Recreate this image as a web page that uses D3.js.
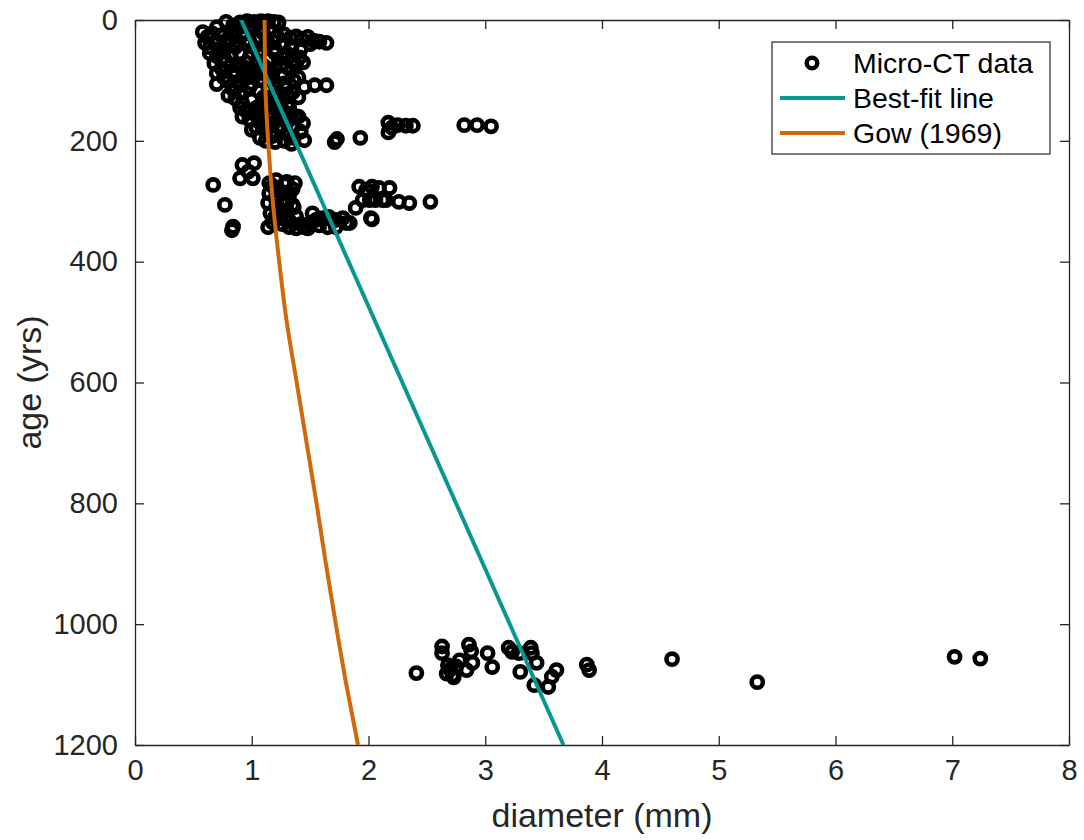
<!DOCTYPE html>
<html>
<head>
<meta charset="utf-8">
<script src="https://cdn.jsdelivr.net/npm/d3@7"></script>
<style>
  html, body { margin: 0; padding: 0; background: #fff; overflow: hidden; }
  svg { display: block; font-family: "Liberation Sans", Arial, Helvetica, sans-serif; }
</style>
</head>
<body>
<script>
//Micro-CT data: diameter (mm) and age (yrs)
const ctDiameter = [
  // top row, age ~0
  0.78, 0.84, 0.9, 0.96, 1.02, 1.08, 1.14, 1.19, 1.23,
  // ages 10-50
  0.58, 0.62, 0.66, 0.7, 0.74, 0.78, 0.6, 0.64,
  0.85, 0.92, 1.0, 1.05, 1.1, 0.95, 1.02, 1.12, 0.88,
  0.7, 0.9, 1.0, 1.15, 0.8, 0.98, 1.18, 1.2, 0.72, 0.86, 1.08,
  1.22, 1.28, 1.33, 1.38, 1.43, 1.48, 1.53, 1.58, 1.64, 1.26, 1.34, 1.42, 1.5, 1.3, 1.41,
  // ages 50-100
  0.64, 0.7, 0.76, 0.82, 0.9, 0.98, 1.06, 1.14, 1.2, 1.26, 1.35, 1.44,
  0.68, 0.74, 0.82, 0.9, 1.0, 1.1, 1.2, 1.3, 1.38,
  0.95, 1.05, 1.15, 1.25, 0.85, 0.95, 1.08, 1.34, 1.4, 0.78,
  // ages 85-150
  0.7, 0.76, 0.7, 0.8, 0.86, 0.94, 1.02, 1.1, 1.18, 1.26, 1.3, 1.36, 1.45, 1.54, 1.64,
  0.84, 0.9, 0.98, 1.06, 1.14, 1.22, 0.8,
  0.9, 1.0, 1.2, 1.28, 1.1, 1.2, 1.35, 1.04, 1.14, 1.22, 1.32, 0.9,
  // ages 125-170
  0.86, 0.92, 1.0, 1.08, 1.16, 1.24, 1.31, 1.4, 0.95, 1.02, 1.1, 1.18, 1.26, 1.34,
  0.98, 1.06, 1.14, 1.22, 1.3, 1.44, 1.38,
  1.06, 1.14, 1.25, 1.35, 1.1, 1.18, 1.4, 0.92, 1.04,
  // ages 170-210
  1.0, 1.07, 1.12, 1.18, 1.24, 1.3, 1.36, 1.42, 1.45, 1.2, 1.28, 1.34, 1.12, 1.71, 1.73, 1.93,
  // ages 170-190, right
  2.17, 2.2, 2.25, 2.32, 2.38, 2.17, 2.82, 2.93, 3.05,
  // ages 235-350
  0.92, 1.02, 0.97, 0.9, 1.01, 0.67, 0.77, 0.84, 0.83, 1.14,
  1.15, 1.21, 1.3, 1.37, 1.15, 1.14, 1.21, 1.3, 1.35, 1.2, 1.3, 1.32, 1.38, 1.45,
  1.18, 1.25, 1.32, 1.2, 1.28, 1.36, 1.24, 1.18, 1.26,
  1.2, 1.28, 1.35, 1.22, 1.3, 1.38, 1.16, 1.42, 1.48, 1.32, 1.25,
  1.5, 1.52, 1.55, 1.58, 1.61, 1.65, 1.66, 1.72, 1.78, 1.84, 1.89, 2.02, 1.69, 1.72, 1.81,
  1.92, 1.98, 2.03, 2.09, 2.18, 2.03,
  1.95, 2.01, 2.06, 2.12, 2.15, 2.26, 2.35, 2.53,
  // ages 1030-1105
  2.41, 2.63, 2.63, 2.67, 2.7, 2.72, 2.75, 2.78, 2.68, 2.73,
  2.86, 2.88, 2.89, 2.84, 3.02, 3.06, 3.2, 3.23, 3.29, 3.39, 3.4, 3.44, 3.3,
  3.42, 3.54, 3.57, 3.61, 3.87, 3.89,
  4.6, 5.33, 7.02, 7.24,
];
const ctAge = [
  3, 9, 4, 2, 3, 2, 2, 3, 4,
  20, 28, 22, 35, 25, 40, 38, 45,
  20, 25, 18, 30, 22, 40, 45, 40, 35,
  12, 12, 10, 15, 30, 35, 35, 48, 48, 45, 50,
  28, 24, 30, 27, 32, 28, 34, 36, 38, 42, 45, 48, 40, 55, 62,
  55, 60, 52, 58, 55, 62, 58, 65, 55, 62, 68, 70,
  72, 80, 75, 78, 82, 75, 80, 78, 75,
  70, 70, 85, 75, 85, 85, 88, 85, 95, 68,
  88, 95, 106, 102, 92, 98, 90, 100, 95, 92, 113, 100, 111, 108, 108,
  115, 120, 112, 118, 110, 120, 125,
  108, 105, 108, 105, 128, 125, 120, 145, 145, 140, 145, 145,
  130, 138, 132, 140, 135, 130, 138, 128, 150, 155, 150, 158, 148, 155,
  165, 168, 172, 165, 170, 171, 162,
  158, 162, 175, 178, 178, 172, 160, 160, 178,
  182, 195, 185, 192, 180, 188, 195, 185, 199, 202, 200, 205, 200, 202, 197, 195,
  170, 178, 174, 175, 175, 186, 174, 174, 176,
  240, 237, 251, 262, 262, 273, 306, 342, 348, 343,
  270, 265, 268, 270, 287, 303, 309, 303, 306, 326, 326, 343, 345, 343,
  275, 285, 290, 295, 300, 310, 318, 335, 338,
  280, 272, 280, 308, 315, 325, 320, 338, 345, 332, 328,
  336, 320, 331, 340, 328, 343, 326, 331, 328, 336, 311, 328, 331, 343, 336,
  276, 281, 276, 278, 278, 330,
  298, 298, 298, 298, 298, 301, 303, 301,
  1081, 1037, 1048, 1082, 1075, 1085, 1070, 1060, 1068, 1088,
  1034, 1045, 1064, 1076, 1048, 1071, 1039, 1046, 1048, 1039, 1048, 1064, 1079,
  1101, 1104, 1087, 1076, 1067, 1076,
  1058, 1096, 1054, 1057,
];

//Best-fit line: end points
const fitDiameter = [0.91, 3.67];
const fitAge = [0, 1200];

//Gow (1969) curve, points read along it
const gowAge = [0, 100, 200, 300, 400, 500, 600, 700, 800, 900, 1000, 1100, 1200];
const gowDiameter = [1.11, 1.115, 1.14, 1.18, 1.235, 1.3, 1.385, 1.47, 1.555, 1.635, 1.72, 1.81, 1.91];

//axis ticks
const xTicks = [0, 1, 2, 3, 4, 5, 6, 7, 8];
const yTicks = [0, 200, 400, 600, 800, 1000, 1200];

//legend entries
const legendItems = ["Micro-CT data", "Best-fit line", "Gow (1969)"];

//colors
const axisColor = "#262626";
const fitColor = "#0a9793";
const gowColor = "#d1680a";

//size
const width = 1084;
const height = 840;
const margin = { top: 20, right: 15, bottom: 95, left: 135 };
const innerWidth = width - margin.left - margin.right;
const innerHeight = height - margin.top - margin.bottom;

const svg = d3
  .select("body")
  .append("svg")
  .attr("width", width)
  .attr("height", height);

//scales
const xScale = d3.scaleLinear().domain([0, 8]).range([0, innerWidth]);
const yScale = d3.scaleLinear().domain([0, 1200]).range([0, innerHeight]);

svg
  .append("defs")
  .append("clipPath")
  .attr("id", "plot-clip")
  .append("rect")
  .attr("width", innerWidth)
  .attr("height", innerHeight);

const g = svg
  .append("g")
  .attr("transform", `translate(${margin.left},${margin.top})`);

//axes, ticks inside, box on
const tickSize = 9;
const fmt = d3.format("d");

g.append("g")
  .attr("transform", `translate(0,${innerHeight})`)
  .call(d3.axisBottom(xScale).tickValues(xTicks).tickFormat(fmt).tickSize(-tickSize).tickPadding(14).tickSizeOuter(0))
  .call(styleAxis);

g.append("g")
  .call(d3.axisTop(xScale).tickValues(xTicks).tickSize(-tickSize).tickSizeOuter(0))
  .call(styleAxis)
  .call((a) => a.selectAll(".tick text").remove());

g.append("g")
  .call(d3.axisLeft(yScale).tickValues(yTicks).tickFormat(fmt).tickSize(-tickSize).tickPadding(17).tickSizeOuter(0))
  .call(styleAxis);

g.append("g")
  .attr("transform", `translate(${innerWidth},0)`)
  .call(d3.axisRight(yScale).tickValues(yTicks).tickSize(-tickSize).tickSizeOuter(0))
  .call(styleAxis)
  .call((a) => a.selectAll(".tick text").remove());

function styleAxis(axis) {
  axis.select(".domain").attr("stroke", axisColor).attr("stroke-width", 1.3);
  axis.selectAll(".tick line").attr("stroke", axisColor).attr("stroke-width", 1.3);
  axis
    .selectAll(".tick text")
    .attr("fill", axisColor)
    .attr("font-size", 29)
    .attr("font-family", '"Liberation Sans", Arial, sans-serif');
}

//axis labels
svg
  .append("text")
  .attr("x", margin.left + innerWidth / 2)
  .attr("y", 827)
  .attr("text-anchor", "middle")
  .attr("fill", axisColor)
  .attr("font-size", 34)
  .text("diameter (mm)");

svg
  .append("text")
  .attr("transform", `translate(41,${margin.top + innerHeight / 2}) rotate(-90)`)
  .attr("text-anchor", "middle")
  .attr("fill", axisColor)
  .attr("font-size", 34)
  .text("age (yrs)");

//micro-CT points
const points = ctDiameter.map((d, i) => ({ diameter: d, age: ctAge[i] }));

g.append("g")
  .selectAll("circle")
  .data(points)
  .join("circle")
  .attr("cx", (d) => xScale(d.diameter))
  .attr("cy", (d) => yScale(d.age))
  .attr("r", 5.6)
  .attr("fill", "none")
  .attr("stroke", "#000")
  .attr("stroke-width", 4.6);

//lines
const line = d3
  .line()
  .x((d) => xScale(d[0]))
  .y((d) => yScale(d[1]));

const lines = g.append("g").attr("clip-path", "url(#plot-clip)");

lines
  .append("path")
  .datum(fitDiameter.map((d, i) => [d, fitAge[i]]))
  .attr("d", line)
  .attr("fill", "none")
  .attr("stroke", fitColor)
  .attr("stroke-width", 4);

lines
  .append("path")
  .datum(gowDiameter.map((d, i) => [d, gowAge[i]]))
  .attr("d", line.curve(d3.curveMonotoneY))
  .attr("fill", "none")
  .attr("stroke", gowColor)
  .attr("stroke-width", 4);

//legend
const legend = svg.append("g").attr("transform", "translate(772,42)");

legend
  .append("rect")
  .attr("width", 278)
  .attr("height", 112)
  .attr("fill", "#fff")
  .attr("stroke", axisColor)
  .attr("stroke-width", 1.2);

legendItems.forEach((label, i) => {
  const y = 21 + i * 35;
  if (i == 0) {
    legend
      .append("circle")
      .attr("cx", 40)
      .attr("cy", y)
      .attr("r", 5.3)
      .attr("fill", "none")
      .attr("stroke", "#000")
      .attr("stroke-width", 4.4);
  } else {
    legend
      .append("line")
      .attr("x1", 8)
      .attr("x2", 73)
      .attr("y1", y)
      .attr("y2", y)
      .attr("stroke", i == 1 ? fitColor : gowColor)
      .attr("stroke-width", 4);
  }
  legend
    .append("text")
    .attr("x", 81)
    .attr("y", y)
    .attr("dy", "0.35em")
    .attr("fill", "#000")
    .attr("font-size", 28.5)
    .text(label);
});
</script>
</body>
</html>
